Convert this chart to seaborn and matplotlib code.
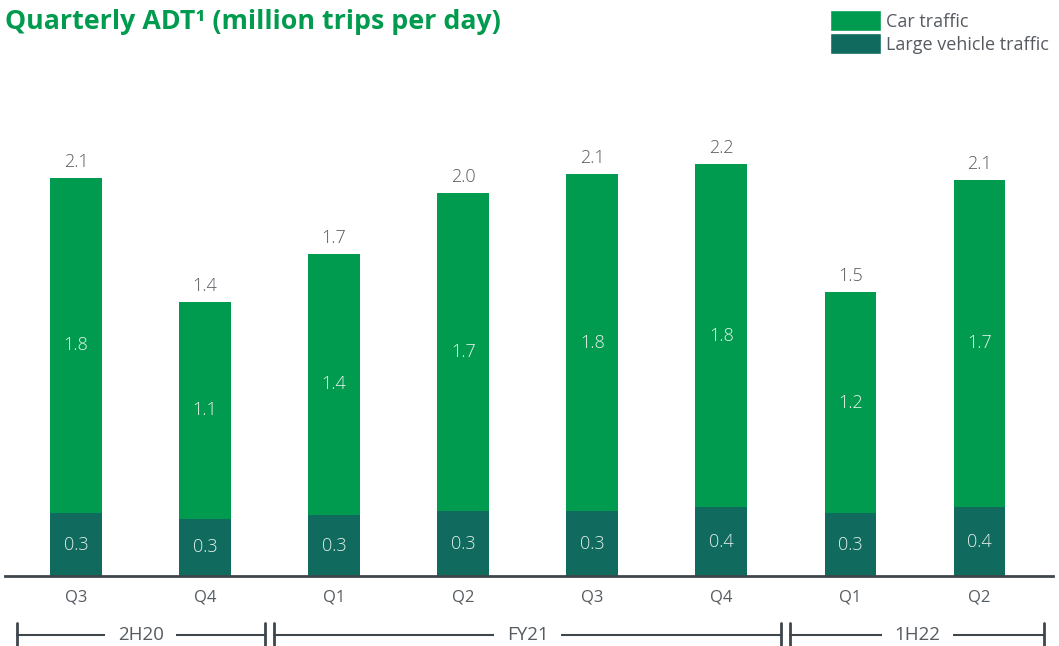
import numpy as np
import pandas as pd
import matplotlib
matplotlib.use("Agg")
import matplotlib.pyplot as plt
import matplotlib.transforms as mtransforms
from matplotlib.patches import Patch
import seaborn as sns

# data (million trips per day)
quarters = ['Q3', 'Q4', 'Q1', 'Q2', 'Q3', 'Q4', 'Q1', 'Q2']
large_vehicle = [0.33, 0.30, 0.32, 0.34, 0.34, 0.36, 0.33, 0.36]
car = [1.76, 1.14, 1.37, 1.67, 1.77, 1.80, 1.16, 1.72]
periods = ['2H20', 'FY21', '1H22']
period_spans = [(0, 1), (2, 5), (6, 7)]

df = pd.DataFrame({'pos': range(len(quarters)), 'quarter': quarters,
                   'car': car, 'large': large_vehicle})
df['total'] = df['car'] + df['large']

GREEN = '#009b4e'
TEAL = '#106b5e'
GREY = '#555b61'
AXIS = '#3f464c'

sns.set_style('white')
plt.rcParams['font.family'] = ['Open Sans', 'DejaVu Sans']

fig = plt.figure(figsize=(10.59, 6.46), dpi=100)
ax = fig.add_axes([5 / 1059, 70 / 646, 1048 / 1059, 446 / 646])

# stacked bars: total in green, large vehicles drawn over it
sns.barplot(data=df, x='pos', y='total', color=GREEN, saturation=1,
            width=0.4, linewidth=0, ax=ax)
sns.barplot(data=df, x='pos', y='large', color=TEAL, saturation=1,
            width=0.4, linewidth=0, ax=ax)

for i, r in df.iterrows():
    ax.annotate(f"{r['total']:.1f}", (i, r['total']), xytext=(0, 5),
                textcoords='offset points', ha='center', va='bottom',
                fontsize=13, color=GREY, fontweight='light')
    ax.text(i, r['large'] + r['car'] / 2, f"{r['car']:.1f}", ha='center',
            va='center', fontsize=13, color='#e8f3ec', fontweight='light')
    ax.text(i, r['large'] / 2, f"{r['large']:.1f}", ha='center',
            va='center', fontsize=13, color='#e3efec', fontweight='light')

ax.set_xlim(-0.55, 7.57)
ax.set_ylim(0, 2.34)
ax.set_xticks(range(len(quarters)))
ax.set_xticklabels(quarters, fontsize=12, color=GREY)
ax.tick_params(axis='x', length=0, pad=10)
ax.set_yticks([])
ax.set_xlabel('')
ax.set_ylabel('')
sns.despine(ax=ax, left=True)
ax.spines['bottom'].set_color(AXIS)
ax.spines['bottom'].set_linewidth(2)

# period brackets under the quarter labels
trans = mtransforms.blended_transform_factory(ax.transData, ax.transAxes)
yb = -0.1325
for name, (a, b) in zip(periods, period_spans):
    x0 = a - 0.46 if a == 0 else a - 0.465
    x1 = b + 0.50 if b == len(quarters) - 1 else b + 0.465
    ax.plot([x0, x1], [yb, yb], color=AXIS, lw=1.5, transform=trans,
            clip_on=False)
    for xe in (x0, x1):
        ax.plot([xe, xe], [yb - 0.026, yb + 0.026], color=AXIS, lw=2,
                transform=trans, clip_on=False)
    ax.text((x0 + x1) / 2, yb, name, ha='center', va='center', fontsize=13.5,
            color=GREY, transform=trans,
            bbox=dict(facecolor='white', edgecolor='none', pad=9))

fig.text(5 / 1059, 1 - 22 / 646, 'Quarterly ADT\u00b9 (million trips per day)',
         ha='left', va='center', fontsize=19.3, fontweight='bold', color=GREEN)

handles = [Patch(facecolor=GREEN, label='Car traffic'),
           Patch(facecolor=TEAL, label='Large vehicle traffic')]
leg = fig.legend(handles=handles, loc='upper left',
                 bbox_to_anchor=(830 / 1059, 1 - 10 / 646), frameon=False,
                 fontsize=13, handlelength=2.8, handleheight=1.45,
                 handletextpad=0.3, labelspacing=0.08, borderpad=0,
                 borderaxespad=0)
for t in leg.get_texts():
    t.set_color(GREY)

fig.savefig('out.png', dpi=100)
